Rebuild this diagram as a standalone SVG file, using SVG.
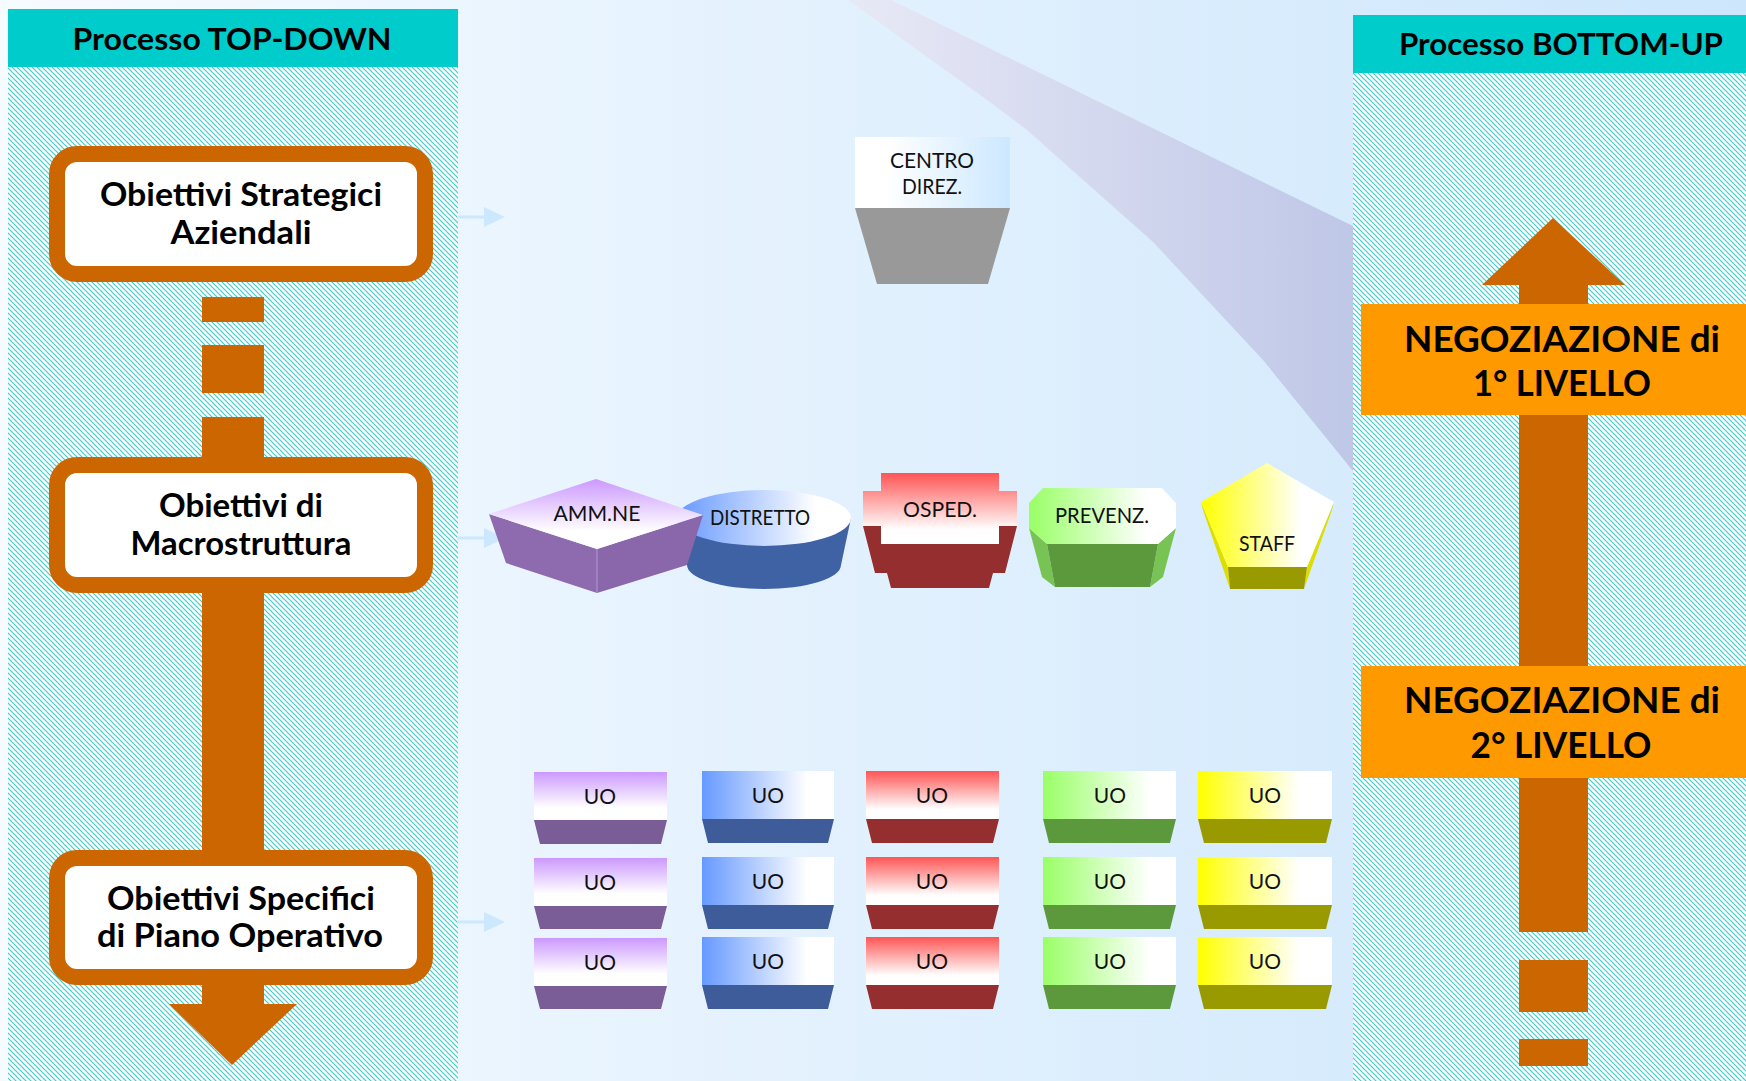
<svg xmlns="http://www.w3.org/2000/svg" width="1746" height="1081" viewBox="0 0 1746 1081">
<style>
.hd{font-family:Lato,"Liberation Sans",sans-serif;font-weight:bold;font-size:31px;fill:#000;text-anchor:middle}
.bx{font-family:Lato,"Liberation Sans",sans-serif;font-weight:bold;font-size:32px;fill:#000;text-anchor:middle}
.ng{font-family:Lato,"Liberation Sans",sans-serif;font-weight:bold;font-size:37px;fill:#000;text-anchor:middle}
.lbl{font-family:Lato,"Liberation Sans",sans-serif;font-size:21px;fill:#111;text-anchor:middle}
.org{fill:#CC6600}
.frame{fill:#fff;stroke:#CC6600;stroke-width:16}
.neg{fill:#FF9900}
.teal{fill:#00CCCC}
.hatch{fill:url(#hatch)}
.sa line{stroke:#CCE8FF;stroke-width:3}
.sa polygon{fill:#CCE8FF}
.pu{fill:url(#gPurpleV)}
.bl{fill:url(#gBlueH)}
.rd{fill:url(#gRedV)}
.gr{fill:url(#gGreenH)}
.ye{fill:url(#gYellowH)}
.puB{fill:#7A5C96}
.blB{fill:#3D5C99}
.rdB{fill:#952E2E}
.grB{fill:#5C993D}
.yeB{fill:#999900}
</style>
<defs>
<linearGradient id="gBg" x1="0" y1="0" x2="1746" y2="0" gradientUnits="userSpaceOnUse">
<stop offset="0" stop-color="#F6FBFF"/><stop offset="1" stop-color="#CDE6FC"/>
</linearGradient>
<linearGradient id="gBand" x1="848" y1="0" x2="1353" y2="0" gradientUnits="userSpaceOnUse">
<stop offset="0" stop-color="#E8E9F6"/><stop offset="1" stop-color="#BFC7E7"/>
</linearGradient>
<pattern id="hatch" patternUnits="userSpaceOnUse" width="5" height="5">
<rect width="5" height="5" fill="#fff"/>
<path d="M-1,-1 L6,6 M-1,4 L1,6 M4,-1 L6,1" stroke="#40CCCC" stroke-width="1.2"/>
</pattern>
<linearGradient id="gPurpleV" x1="0" y1="0" x2="0" y2="1"><stop offset="0" stop-color="#CC99FF"/><stop offset="0.75" stop-color="#FFFFFF"/></linearGradient>
<linearGradient id="gRedV" x1="0" y1="0" x2="0" y2="1"><stop offset="0" stop-color="#FF5555"/><stop offset="0.8" stop-color="#FFFFFF"/></linearGradient>
<linearGradient id="gBlueH" x1="0" y1="0" x2="1" y2="0"><stop offset="0" stop-color="#6699FF"/><stop offset="0.8" stop-color="#FFFFFF"/></linearGradient>
<linearGradient id="gGreenH" x1="0" y1="0" x2="1" y2="0"><stop offset="0" stop-color="#99FF66"/><stop offset="0.8" stop-color="#FFFFFF"/></linearGradient>
<linearGradient id="gYellowH" x1="0" y1="0" x2="1" y2="0"><stop offset="0" stop-color="#FFFF00"/><stop offset="0.75" stop-color="#FFFFFF"/></linearGradient>
<linearGradient id="gCentro" x1="0" y1="0" x2="1" y2="0"><stop offset="0.2" stop-color="#FFFFFF"/><stop offset="1" stop-color="#CCE8FF"/></linearGradient>
</defs>

<rect x="0" y="0" width="1746" height="1081" fill="url(#gBg)"/>
<polygon id="band" points="848,0 891,0 1353,226 1353,471 1340,455 1263,360 1153,242 1027,130 987,100" fill="url(#gBand)"/>

<g id="panel-topdown">
<rect x="8" y="67" width="450" height="1014" class="hatch"/>
<rect x="8" y="9" width="450" height="58" class="teal"/>
<text x="232" y="50" class="hd" textLength="319" lengthAdjust="spacingAndGlyphs">Processo TOP-DOWN</text>
</g>
<g id="panel-bottomup">
<rect x="1353" y="73" width="393" height="1008" class="hatch"/>
<rect x="1353" y="15" width="393" height="58" class="teal"/>
<text x="1561" y="55" class="hd" textLength="324" lengthAdjust="spacingAndGlyphs">Processo BOTTOM-UP</text>
</g>

<g id="connectors">
<g id="topdown-arrow" class="org">
<rect x="202" y="297" width="62" height="25"/>
<rect x="202" y="345" width="62" height="48"/>
<rect x="202" y="417" width="62" height="45"/>
<rect x="202" y="588" width="62" height="267"/>
<rect x="202" y="980" width="62" height="25"/>
<polygon points="169,1004 297,1004 232,1065"/>
</g>
<g id="bottomup-arrow" class="org">
<polygon points="1482,285 1625,285 1553,218"/>
<rect x="1519" y="284" width="69" height="22"/>
<rect x="1519" y="413" width="69" height="255"/>
<rect x="1519" y="776" width="69" height="156"/>
<rect x="1519" y="960" width="69" height="52"/>
<rect x="1519" y="1039" width="69" height="27"/>
</g>
<g class="sa">
<line x1="457" y1="217" x2="487" y2="217"/><polygon points="484,207 505,217 484,227"/>
<line x1="457" y1="538" x2="487" y2="538"/><polygon points="484,528 505,538 484,548"/>
<line x1="457" y1="922" x2="487" y2="922"/><polygon points="484,912 505,922 484,932"/>
</g>
</g>

<g id="obj-strategici">
<rect x="57" y="154" width="368" height="120" rx="20" class="frame"/>
<text x="241" y="206" class="bx" textLength="282" lengthAdjust="spacingAndGlyphs">Obiettivi Strategici</text>
<text x="241" y="244" class="bx" textLength="141" lengthAdjust="spacingAndGlyphs">Aziendali</text>
</g>
<g id="obj-macro">
<rect x="57" y="465" width="368" height="120" rx="20" class="frame"/>
<text x="241" y="517" class="bx" textLength="164" lengthAdjust="spacingAndGlyphs">Obiettivi di</text>
<text x="241" y="555" class="bx" textLength="221" lengthAdjust="spacingAndGlyphs">Macrostruttura</text>
</g>
<g id="obj-specifici">
<rect x="57" y="858" width="368" height="119" rx="20" class="frame"/>
<text x="241" y="910" class="bx" textLength="268" lengthAdjust="spacingAndGlyphs">Obiettivi Specifici</text>
<text x="240" y="947" class="bx" textLength="286" lengthAdjust="spacingAndGlyphs">di Piano Operativo</text>
</g>

<g id="neg-1">
<rect x="1361" y="304" width="385" height="111" class="neg"/>
<text x="1562" y="352" class="ng" textLength="316" lengthAdjust="spacingAndGlyphs">NEGOZIAZIONE di</text>
<text x="1562" y="396" class="ng" textLength="178" lengthAdjust="spacingAndGlyphs">1° LIVELLO</text>
</g>
<g id="neg-2">
<rect x="1361" y="666" width="385" height="112" class="neg"/>
<text x="1562" y="713" class="ng" textLength="316" lengthAdjust="spacingAndGlyphs">NEGOZIAZIONE di</text>
<text x="1561" y="758" class="ng" textLength="181" lengthAdjust="spacingAndGlyphs">2° LIVELLO</text>
</g>

<g id="centro-direz">
<rect x="855" y="137" width="155" height="71" fill="url(#gCentro)"/>
<polygon points="855,208 1010,208 988,284 877,284" fill="#999999"/>
<text x="932" y="168" class="lbl" textLength="84" lengthAdjust="spacingAndGlyphs">CENTRO</text>
<text x="932" y="194" class="lbl" textLength="60" lengthAdjust="spacingAndGlyphs">DIREZ.</text>
</g>

<g id="distretto">
<path d="M677,518 L687,565 A77,24 0 0 0 841,565 L851,518 Z" fill="#3F62A5"/>
<ellipse cx="764" cy="518" rx="87" ry="28" fill="url(#gBlueH)"/>
<text x="760" y="525" class="lbl" textLength="100" lengthAdjust="spacingAndGlyphs">DISTRETTO</text>
</g>
<g id="ammne">
<polygon points="489,514 597,549 597,593 506,563" fill="#8E6BAF"/>
<polygon points="597,549 703,515 687,565 597,593" fill="#8A67AB"/>
<line x1="597" y1="549" x2="597" y2="593" stroke="#B49AD0" stroke-width="1"/>
<polygon points="489,514 596,479 703,515 597,549" fill="url(#gPurpleV)"/>
<text x="597" y="521" class="lbl" textLength="87" lengthAdjust="spacingAndGlyphs">AMM.NE</text>
</g>
<g id="osped">
<path d="M863,526 H881 V544 H999 V526 H1017 L1005,573 H993 L989,588 H891 L887,573 H875 Z" fill="#952E2E"/>
<path d="M881,473 H999 V491 H1017 V526 H999 V544 H881 V526 H863 V491 H881 Z" fill="url(#gRedV)"/>
<text x="940" y="517" class="lbl" textLength="74" lengthAdjust="spacingAndGlyphs">OSPED.</text>
</g>
<g id="prevenz">
<polygon points="1029,528 1047,544 1055,587 1042,577" fill="#77C454"/>
<polygon points="1158,544 1176,528 1163,577 1150,587" fill="#77C454"/>
<polygon points="1047,544 1158,544 1150,587 1055,587" fill="#5C993D"/>
<polygon points="1043,488 1162,488 1176,503 1176,528 1158,544 1047,544 1029,528 1029,503" fill="url(#gGreenH)"/>
<text x="1102" y="523" class="lbl" textLength="94" lengthAdjust="spacingAndGlyphs">PREVENZ.</text>
</g>
<g id="staff">
<polygon points="1201,502 1228,567 1230,589 1203,510" fill="#DDDD00"/>
<polygon points="1334,502 1307,567 1304,589 1332,510" fill="#DDDD00"/>
<polygon points="1228,567 1307,567 1304,589 1230,589" fill="#999900"/>
<polygon points="1267,463 1334,502 1307,567 1228,567 1201,502" fill="url(#gYellowH)"/>
<text x="1267" y="551" class="lbl" textLength="56" lengthAdjust="spacingAndGlyphs">STAFF</text>
</g>

<g id="uo-1-1" transform="translate(534,772)"><rect width="133" height="48" class="pu"/><polygon points="0,48 133,48 127,72 6,72" class="puB"/><text x="66" y="32" class="lbl">UO</text></g>
<g id="uo-1-2" transform="translate(534,858)"><rect width="133" height="48" class="pu"/><polygon points="0,48 133,48 127,71 6,71" class="puB"/><text x="66" y="32" class="lbl">UO</text></g>
<g id="uo-1-3" transform="translate(534,938)"><rect width="133" height="48" class="pu"/><polygon points="0,48 133,48 127,71 6,71" class="puB"/><text x="66" y="32" class="lbl">UO</text></g>

<g id="uo-2-1" transform="translate(702,771)"><rect width="132" height="48" class="bl"/><polygon points="0,48 132,48 126,72 6,72" class="blB"/><text x="66" y="32" class="lbl">UO</text></g>
<g id="uo-2-2" transform="translate(702,857)"><rect width="132" height="48" class="bl"/><polygon points="0,48 132,48 126,72 6,72" class="blB"/><text x="66" y="32" class="lbl">UO</text></g>
<g id="uo-2-3" transform="translate(702,937)"><rect width="132" height="48" class="bl"/><polygon points="0,48 132,48 126,72 6,72" class="blB"/><text x="66" y="32" class="lbl">UO</text></g>

<g id="uo-3-1" transform="translate(866,771)"><rect width="133" height="48" class="rd"/><polygon points="0,48 133,48 127,72 6,72" class="rdB"/><text x="66" y="32" class="lbl">UO</text></g>
<g id="uo-3-2" transform="translate(866,857)"><rect width="133" height="48" class="rd"/><polygon points="0,48 133,48 127,72 6,72" class="rdB"/><text x="66" y="32" class="lbl">UO</text></g>
<g id="uo-3-3" transform="translate(866,937)"><rect width="133" height="48" class="rd"/><polygon points="0,48 133,48 127,72 6,72" class="rdB"/><text x="66" y="32" class="lbl">UO</text></g>

<g id="uo-4-1" transform="translate(1043,771)"><rect width="133" height="48" class="gr"/><polygon points="0,48 133,48 127,72 6,72" class="grB"/><text x="67" y="32" class="lbl">UO</text></g>
<g id="uo-4-2" transform="translate(1043,857)"><rect width="133" height="48" class="gr"/><polygon points="0,48 133,48 127,72 6,72" class="grB"/><text x="67" y="32" class="lbl">UO</text></g>
<g id="uo-4-3" transform="translate(1043,937)"><rect width="133" height="48" class="gr"/><polygon points="0,48 133,48 127,72 6,72" class="grB"/><text x="67" y="32" class="lbl">UO</text></g>

<g id="uo-5-1" transform="translate(1198,771)"><rect width="134" height="48" class="ye"/><polygon points="0,48 134,48 128,72 6,72" class="yeB"/><text x="67" y="32" class="lbl">UO</text></g>
<g id="uo-5-2" transform="translate(1198,857)"><rect width="134" height="48" class="ye"/><polygon points="0,48 134,48 128,72 6,72" class="yeB"/><text x="67" y="32" class="lbl">UO</text></g>
<g id="uo-5-3" transform="translate(1198,937)"><rect width="134" height="48" class="ye"/><polygon points="0,48 134,48 128,72 6,72" class="yeB"/><text x="67" y="32" class="lbl">UO</text></g>
</svg>
